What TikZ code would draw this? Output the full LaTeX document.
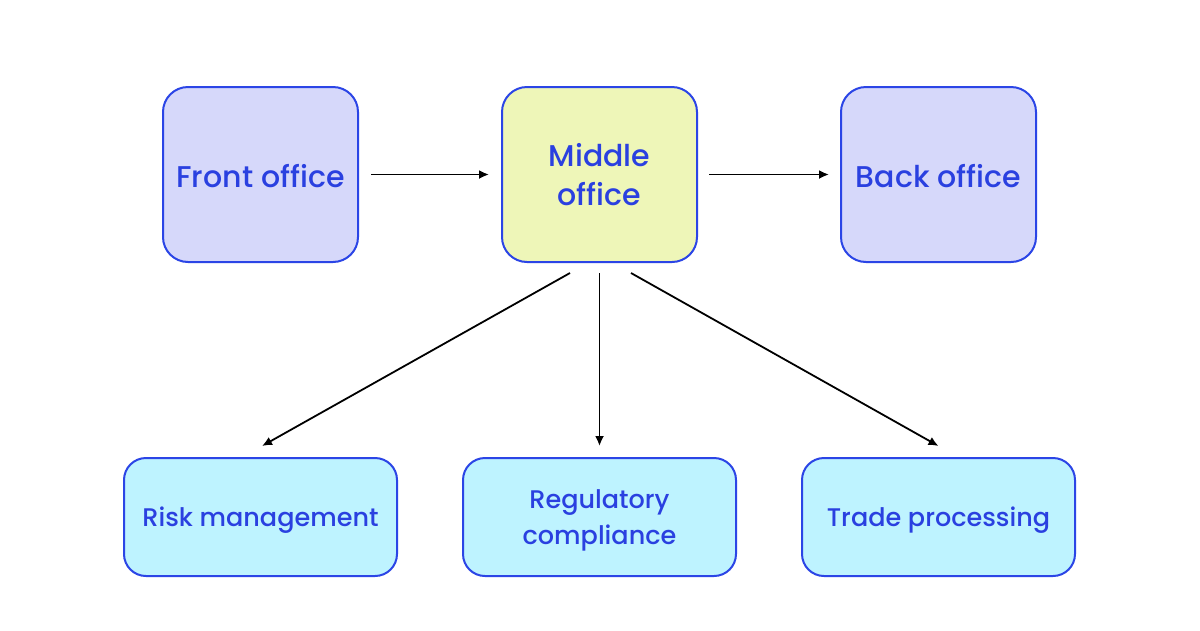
\documentclass[tikz,border=0pt]{standalone}
\usepackage{fontspec}
\setmainfont{Poppins Medium}
\usetikzlibrary{arrows.meta}
\definecolor{edgeblue}{HTML}{2B45E6}
\definecolor{txtblue}{HTML}{2A40E0}
\definecolor{topfill}{HTML}{D6D8FA}
\definecolor{midfill}{HTML}{EEF6B8}
\definecolor{botfill}{HTML}{BEF3FF}
\tikzset{
  box/.style={draw=edgeblue, line width=2pt, rounded corners=25pt, text=txtblue, align=center, inner sep=0pt},
  topbox/.style={box, fill=topfill, minimum width=195pt, minimum height=175pt, font=\fontsize{30}{39}\selectfont, text height=26pt, text depth=0pt},
  midbox/.style={box, fill=midfill, minimum width=195pt, minimum height=175pt, font=\fontsize{30}{39}\selectfont},
  botbox/.style={box, fill=botfill, minimum width=273pt, minimum height=118pt, rounded corners=22pt, font=\fontsize{25.5}{36}\selectfont, text depth=0pt},
  conn/.style={line width=1.8pt, -{Latex[length=10pt,width=9pt]}}
}
\begin{document}
\begin{tikzpicture}[x=1pt,y=-1pt]
\useasboundingbox (0,0) rectangle (1200,630);
\fill[white] (0,0) rectangle (1200,630);
\node[topbox] (front) at (260.5,174.5) {Front office};
\node[midbox] (middle) at (599.5,174.5) {Middle\\office};
\node[topbox] (back) at (938.5,174.5) {Back office};
\node[botbox] (risk) at (260.5,517) {Risk management};
\node[botbox] (reg) at (599.5,517) {Regulatory\\compliance};
\node[botbox] (trade) at (938.5,517) {Trade processing};
\draw[conn, shorten <=12pt, shorten >=12pt] (front.east) -- (middle.west);
\draw[conn, shorten <=11pt, shorten >=11pt] (middle.east) -- (back.west);
\draw[conn] ([xshift=-29.5pt,yshift=-10pt]middle.south) -- ([xshift=1.5pt,yshift=11pt]risk.north);
\draw[conn] ([yshift=-10pt]middle.south) -- ([yshift=11pt]reg.north);
\draw[conn] ([xshift=31.5pt,yshift=-10pt]middle.south) -- ([yshift=11pt]trade.north);
\end{tikzpicture}
\end{document}
